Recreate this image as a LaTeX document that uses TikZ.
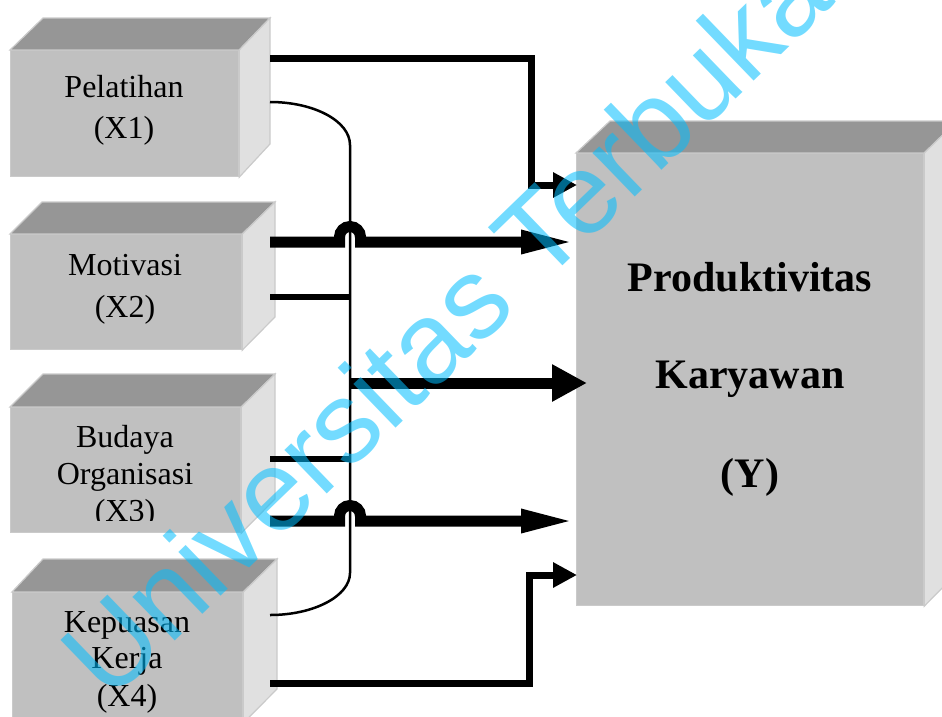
\documentclass[tikz,border=0pt]{standalone}
\usepackage{fontspec}
\setmainfont{Liberation Serif}
\newfontfamily\wmfont{Liberation Sans}
\usetikzlibrary{arrows.meta}
\definecolor{boxfront}{HTML}{C0C0C0}
\definecolor{boxtop}{HTML}{969696}
\definecolor{boxside}{HTML}{E0E0E0}
\definecolor{boxedge}{HTML}{CACACA}
\definecolor{wmcyan}{RGB}{0,190,255}
\begin{document}
\begin{tikzpicture}[x=1pt,y=-1pt,
  frontface/.style={fill=boxfront, draw=boxedge, line width=1.2pt, inner sep=0pt, anchor=north west},
  topface/.style={fill=boxtop, draw=boxedge, line width=1.2pt},
  sideface/.style={fill=boxside, draw=boxedge, line width=1.2pt},
  lbl/.style={anchor=base, inner sep=0pt, font=\fontsize{32}{38}\selectfont},
  biglbl/.style={anchor=base, inner sep=0pt, font=\fontsize{42}{50}\selectfont\bfseries},
  medarrow/.style={line width=7pt, line join=miter, -{Triangle[length=24pt,width=24pt]}},
  longarrow/.style={line width=11pt, line join=miter, -{Triangle[length=56pt,width=21pt]}},
  bigarrow/.style={line width=11pt, -{Triangle[length=35pt,width=35pt]}},
  feeder/.style={line width=5.5pt},
  busline/.style={line width=2.5pt},
  watermark/.style={anchor=base, inner sep=0pt, rotate=44, text=wmcyan, text opacity=0.55,
    font=\fontsize{115}{115}\selectfont\wmfont}
]
\clip (0,0) rectangle (942,716);
\useasboundingbox (0,0) rectangle (942,716);

% ---------- Box 1 ----------
\node[frontface, minimum width=228pt, minimum height=126pt] (b1) at (10,50) {};
\filldraw[topface] (b1.north west) -- (43,18) -- (270,18) -- (b1.north east) -- cycle;
\filldraw[sideface] (b1.north east) -- (270,18) -- (270,144) -- (b1.south east) -- cycle;
\node[lbl] (b1l1) at (124,97) {Pelatihan};
\node[lbl] (b1l2) at (124,138) {(X1)};

% ---------- Box 2 ----------
\node[frontface, minimum width=231pt, minimum height=115pt] (b2) at (10,234) {};
\filldraw[topface] (b2.north west) -- (42,202) -- (275,202) -- (b2.north east) -- cycle;
\filldraw[sideface] (b2.north east) -- (275,202) -- (275,317) -- (b2.south east) -- cycle;
\node[lbl] (b2l1) at (125,275) {Motivasi};
\node[lbl] (b2l2) at (125,317) {(X2)};

% ---------- Box 3 ----------
\node[frontface, minimum width=230pt, minimum height=125pt] (b3) at (10,407) {};
\filldraw[topface] (b3.north west) -- (43,374) -- (275,374) -- (b3.north east) -- cycle;
\filldraw[sideface] (b3.north east) -- (275,374) -- (275,499) -- (b3.south east) -- cycle;
\node[lbl] (b3l1) at (125,447) {Budaya};
\node[lbl] (b3l2) at (125,484) {Organisasi};
\begin{scope}
  \clip (10,400) rectangle (240,520);
  \node[lbl] (b3l3) at (125,521) {(X3)};
\end{scope}

% ---------- Box 4 ----------
\node[frontface, minimum width=230pt, minimum height=130pt] (b4) at (12,592) {};
\filldraw[topface] (b4.north west) -- (43,559) -- (277,559) -- (b4.north east) -- cycle;
\filldraw[sideface] (b4.north east) -- (277,559) -- (277,689) -- (b4.south east) -- cycle;
\node[lbl] (b4l1) at (127,632) {Kepuasan};
\node[lbl] (b4l2) at (127,668) {Kerja};
\node[lbl] (b4l3) at (127,706) {(X4)};

% ---------- Y box ----------
\node[frontface, minimum width=347pt, minimum height=452pt] (Y) at (576,153) {};
\filldraw[topface] (Y.north west) -- (610,121) -- (957,121) -- (Y.north east) -- cycle;
\filldraw[sideface] (Y.north east) -- (957,121) -- (957,573) -- (Y.south east) -- cycle;
\node[biglbl] (yl1) at (750,291) {Produktivitas};
\node[biglbl] (yl2) at (750,388) {Karyawan};
\node[biglbl] (yl3) at (750,487) {(Y)};

% ---------- ports ----------
\coordinate (p1a) at (270,58.5);
\coordinate (p1b) at (270,102);
\coordinate (p2a) at (270,242);
\coordinate (p2b) at (270,297);
\coordinate (p3a) at (270,459);
\coordinate (p3b) at (270,521);
\coordinate (p4a) at (270,615);
\coordinate (p4b) at (270,683);
\coordinate (bustop) at (350,145);
\coordinate (busbot) at (350,573);
\coordinate (busmid) at (350,383);

% ---------- bus (thin merging line) ----------
\draw[busline] (p1b) .. controls (314,102) and (350,121) .. (bustop)
  -- (busbot) .. controls (350,596) and (314,615) .. (p4a);
\draw[feeder] (p2b) -- (p2b -| bustop);
\draw[feeder] (p3a) -- (p3a -| bustop);

% ---------- arrows ----------
\draw[medarrow] (p1a) -- (531.5,58.5) -- (531.5,185) -- ([xshift=1pt]Y.west |- 0,185);
\draw[longarrow] (p2a) -- (339.5,242) -- (339.5,237)
  arc[start angle=180, end angle=0, radius=10.5pt] -- (360.5,242)
  -- ([xshift=1pt]Y.west |- 0,242);
\draw[bigarrow] (busmid) -- ([xshift=11pt]Y.west |- busmid);
\draw[longarrow] (p3b) -- (339.5,521) -- (339.5,516)
  arc[start angle=180, end angle=0, radius=10.5pt] -- (360.5,521)
  -- ([xshift=1pt]Y.west |- 0,521);
\draw[medarrow] (p4b) -- (529,683) -- (529,575) -- ([xshift=1pt]Y.west |- 0,575);

% ---------- watermark ----------
\node[watermark] (wm) at (473,353) {Universitas Terbuka};
\end{tikzpicture}
\end{document}
